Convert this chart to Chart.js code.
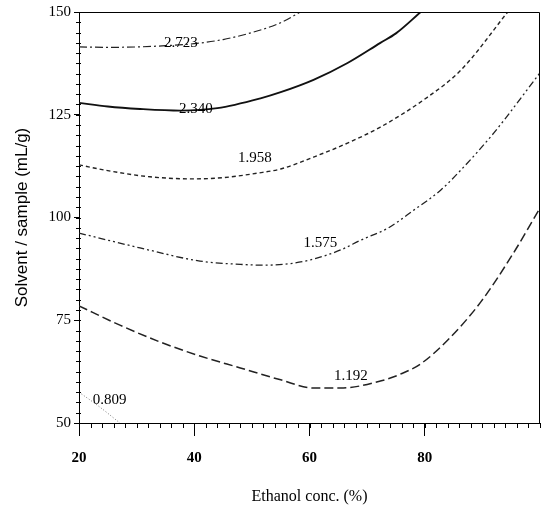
<!DOCTYPE html>
<html>
<head>
<meta charset="utf-8">
<script src="https://cdn.jsdelivr.net/npm/chart.js@4/dist/chart.umd.min.js"></script>
<style>
html,body{margin:0;padding:0;background:#fff;}
#wrap{width:542px;height:506px;}
</style>
</head>
<body>
<div id="wrap"><canvas id="c" width="542" height="506"></canvas></div>
<script>
// Contour levels and their traced curves (x = ethanol %, y = solvent/sample mL/g)
const levels = ["2.723", "2.340", "1.958", "1.575", "1.192", "0.809"];

const x2723 = [20, 25, 30, 35, 40, 45, 50, 55, 58.4];
const y2723 = [141.5, 141.4, 141.5, 141.8, 142.3, 143.3, 145.0, 147.4, 150];

const x2340 = [20, 25, 30.6, 37.6, 44, 51.5, 55, 60.7, 66.6, 72.3, 75, 79.3];
const y2340 = [127.9, 127.0, 126.4, 126.0, 126.6, 129.0, 130.5, 133.5, 137.6, 142.5, 144.8, 150];

const x1958 = [20, 25, 32.3, 39.8, 45, 51, 55, 60.7, 66.6, 72.3, 80.5, 86.3, 94.4];
const y1958 = [112.8, 111.4, 109.9, 109.4, 109.7, 110.8, 111.8, 114.7, 118.1, 122.0, 129.3, 135.9, 150];

const x1575 = [20, 30.6, 41, 48, 52, 56.7, 60.2, 65.4, 68.9, 73.6, 78.1, 82.8, 86.3, 92.0, 100];
const y1575 = [96.2, 92.6, 89.4, 88.6, 88.4, 88.8, 89.7, 92.1, 94.5, 97.4, 101.8, 106.7, 111.6, 120.6, 135.2];

const x1192 = [20, 27.1, 34.1, 41.0, 48.0, 55.0, 60.7, 65.4, 72.3, 75.8, 79.3, 84.0, 89.7, 95.5, 100];
const y1192 = [78.5, 73.8, 69.7, 66.3, 63.4, 60.5, 58.5, 58.5, 60.2, 61.9, 64.4, 70.2, 79.4, 91.6, 102.3];

const x0809 = [20, 23.5, 27.1];
const y0809 = [57.5, 54.0, 50];

// Label anchor points (data units) for each contour level
const labelX = [37.7, 40.3, 50.5, 61.9, 67.2, 25.3];
const labelY = [142.5, 126.4, 114.5, 93.8, 61.4, 55.6];

const xTicks = [20, 40, 60, 80];
const yTicks = [50, 75, 100, 125, 150];

function pts(xs, ys) { return xs.map((x, i) => ({x: x, y: ys[i]})); }

const styles = [
  {borderColor: '#222', borderWidth: 1.2, borderDash: [8, 3, 2, 3]},
  {borderColor: '#111', borderWidth: 1.9, borderDash: []},
  {borderColor: '#222', borderWidth: 1.4, borderDash: [4, 3]},
  {borderColor: '#222', borderWidth: 1.3, borderDash: [7, 3, 2, 3, 2, 3]},
  {borderColor: '#222', borderWidth: 1.5, borderDash: [9, 4]},
  {borderColor: '#777', borderWidth: 1.0, borderDash: [1, 2]}
];

const series = [pts(x2723, y2723), pts(x2340, y2340), pts(x1958, y1958),
                pts(x1575, y1575), pts(x1192, y1192), pts(x0809, y0809)];

const datasets = series.map((d, i) => Object.assign({
  label: levels[i],
  data: d,
  showLine: true,
  pointRadius: 0,
  fill: false,
  cubicInterpolationMode: 'monotone'
}, styles[i]));

const extras = {
  id: 'extras',
  afterDraw(chart) {
    const ctx = chart.ctx;
    const xs = chart.scales.x, ys = chart.scales.y;
    const a = chart.chartArea;
    ctx.save();
    // frame top/right
    ctx.strokeStyle = '#000';
    ctx.lineWidth = 1;
    ctx.beginPath();
    ctx.moveTo(a.left, a.top + 0.5);
    ctx.lineTo(a.right - 0.5, a.top + 0.5);
    ctx.lineTo(a.right - 0.5, a.bottom);
    ctx.stroke();
    // minor ticks
    ctx.beginPath();
    for (let v = 20; v <= 100.001; v += 2) {
      const px = Math.round(xs.getPixelForValue(v)) + 0.5;
      ctx.moveTo(px, a.bottom);
      ctx.lineTo(px, a.bottom + 5);
    }
    for (let v = 50; v <= 150.001; v += 2.5) {
      const py = Math.round(ys.getPixelForValue(v)) + 0.5;
      ctx.moveTo(a.left - 3, py);
      ctx.lineTo(a.left + 2, py);
    }
    ctx.stroke();
    // contour labels
    ctx.fillStyle = '#000';
    ctx.font = '15px "Liberation Serif", "DejaVu Serif", serif';
    ctx.textAlign = 'center';
    ctx.textBaseline = 'middle';
    levels.forEach((t, i) => {
      ctx.fillText(t, xs.getPixelForValue(labelX[i]), ys.getPixelForValue(labelY[i]));
    });
    ctx.restore();
  }
};

new Chart(document.getElementById('c'), {
  type: 'scatter',
  data: {datasets: datasets},
  options: {
    responsive: false,
    animation: false,
    events: [],
    layout: {padding: {top: 12, right: 2, left: 0, bottom: 0}},
    plugins: {legend: {display: false}, tooltip: {enabled: false}},
    scales: {
      x: {
        type: 'linear', min: 20, max: 100,
        afterFit(s) { s.height = 83; },
        afterBuildTicks(s) { s.ticks = xTicks.map(v => ({value: v})); },
        ticks: {
          color: '#000', padding: 13, maxRotation: 0,
          font: {family: '"Liberation Serif", serif', size: 15, weight: 'bold'}
        },
        grid: {drawOnChartArea: false, drawTicks: true, tickLength: 13, color: '#000', tickWidth: 1},
        border: {display: true, color: '#000', width: 1},
        title: {
          display: true, text: 'Ethanol conc. (%)', color: '#000',
          font: {family: '"Liberation Serif", serif', size: 16},
          padding: {top: 0, bottom: 0}
        }
      },
      y: {
        type: 'linear', min: 50, max: 150,
        afterFit(s) { s.width = 79; },
        afterBuildTicks(s) { s.ticks = yTicks.map(v => ({value: v})); },
        ticks: {
          color: '#000', padding: 3,
          font: {family: '"Liberation Serif", serif', size: 15}
        },
        grid: {drawOnChartArea: false, drawTicks: true, tickLength: 5, color: '#000', tickWidth: 1},
        border: {display: true, color: '#000', width: 1},
        title: {
          display: true, text: 'Solvent / sample (mL/g)', color: '#000',
          font: {family: '"Liberation Sans", sans-serif', size: 17},
          padding: {top: 12, bottom: 0}
        }
      }
    }
  },
  plugins: [extras]
});
</script>
</body>
</html>
